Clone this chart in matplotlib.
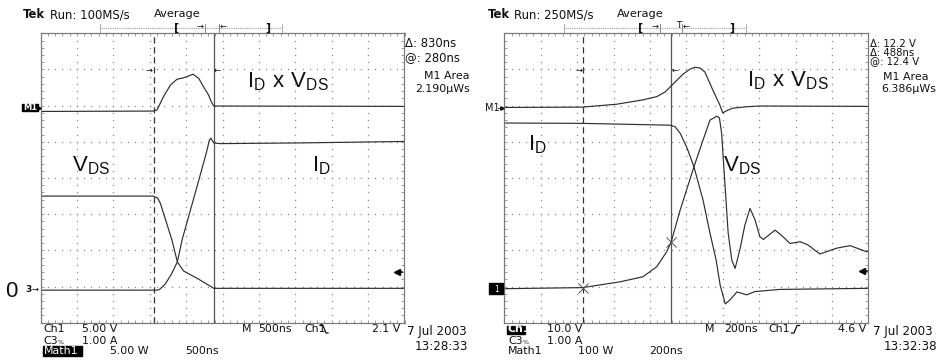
import matplotlib
matplotlib.use("Agg")
import matplotlib.pyplot as plt
from matplotlib.patches import Rectangle
import numpy as np

plt.rcParams['mathtext.fontset'] = 'custom'
plt.rcParams['mathtext.rm'] = 'Liberation Sans'

W, H = 937, 360

# --- traces, in screen divisions (graticule is 10 x 8) ---
# left screen: turn-on, 500 ns/div
l_pwr_x = [0, 3.10, 3.20, 3.38, 3.57, 3.75, 3.93, 4.07, 4.19, 4.35, 4.48, 4.62, 4.69, 4.76, 10]
l_pwr_y = [5.84, 5.85, 5.88, 6.25, 6.57, 6.73, 6.77, 6.82, 6.87, 6.75, 6.52, 6.29, 6.11, 5.99, 5.98]
l_id_x = [0, 3.18, 3.26, 3.43, 3.60, 3.76, 3.89, 4.28, 4.56, 4.64, 4.68, 4.76, 4.94, 7.15, 10]
l_id_y = [0.90, 0.90, 0.91, 1.07, 1.35, 1.68, 2.29, 3.69, 4.71, 5.05, 5.10, 4.97, 4.95, 4.97, 5.01]
l_vds_x = [0, 3.10, 3.21, 3.29, 3.61, 3.76, 3.93, 4.35, 4.76, 10]
l_vds_y = [3.50, 3.50, 3.45, 3.31, 2.29, 1.68, 1.43, 1.20, 0.95, 0.95]
l_cursors = [3.11, 4.76]

# right screen: turn-off, 200 ns/div
r_pwr_x = [0, 2.15, 3.09, 3.81, 4.19, 4.42, 4.58, 4.91, 5.10, 5.24, 5.38, 5.51, 5.73,
           5.92, 6.00, 6.15, 6.28, 6.66, 7.02, 10]
r_pwr_y = [5.95, 5.96, 6.04, 6.16, 6.25, 6.38, 6.54, 6.87, 7.01, 7.06, 7.04, 6.93, 6.43,
           6.02, 5.80, 5.88, 5.93, 5.97, 5.99, 5.98]
r_id_x = [0, 2.15, 4.55, 4.69, 4.83, 5.02, 5.21, 5.46, 5.65, 5.82, 5.93, 6.07, 6.20,
          6.39, 6.66, 6.88, 7.11, 7.57, 10]
r_id_y = [5.52, 5.51, 5.46, 5.42, 5.24, 4.83, 4.31, 3.39, 2.48, 1.73, 1.04, 0.52, 0.63,
          0.85, 0.77, 0.86, 0.88, 0.92, 0.95]
r_vds_x = [0, 2.15, 3.18, 3.81, 4.19, 4.46, 4.58, 4.83, 5.21, 5.46, 5.65, 5.84, 5.91,
           5.97, 6.06, 6.15, 6.25, 6.34, 6.47, 6.61, 6.75, 6.89, 7.02, 7.12, 7.24, 7.44,
           7.63, 7.85, 8.13, 8.34, 8.67, 9.13, 9.50, 9.96, 10]
r_vds_y = [0.94, 0.97, 1.13, 1.27, 1.55, 1.96, 2.22, 3.11, 4.31, 5.05, 5.60, 5.71, 5.66,
           5.24, 3.86, 2.48, 1.73, 1.50, 2.01, 2.70, 3.16, 2.84, 2.38, 2.30, 2.40, 2.56,
           2.40, 2.19, 2.24, 2.15, 1.90, 2.06, 2.13, 1.96, 1.98]
r_cursors = [2.15, 4.58]
r_marks_x = [2.15, 4.58]
r_marks_y = [0.97, 2.22]

TRACE = '#2e2e2e'
GRID = '#8c8c8c'
SMALL = dict(family='DejaVu Sans', fontsize=7.9, color='#111111', va='center')
BIG = dict(fontsize=16, color='#111111', va='baseline')

fig = plt.figure(figsize=(W / 100, H / 100), dpi=100)


def screen(left_px):
    ax = fig.add_axes([left_px / W, (H - 322.7) / H, 364 / W, 289.4 / H])
    ax.set_xlim(0, 10)
    ax.set_ylim(0, 8)
    ax.set_xticks(np.arange(0, 10.01, 0.2))
    ax.set_yticks(np.arange(0, 8.01, 0.2))
    ax.tick_params(direction='in', length=2.5, width=0.6, color=GRID,
                   top=True, right=True, labelbottom=False, labelleft=False)
    for s in ax.spines.values():
        s.set_color('#7a7a7a')
        s.set_linewidth(0.9)
    # dotted graticule
    fine_y = np.arange(0.2, 8, 0.2)
    fine_x = np.arange(0.2, 10, 0.2)
    for i in range(1, 10):
        ax.plot(np.full_like(fine_y, i), fine_y, ls='', marker='s', ms=0.9,
                mec='none', mfc=GRID)
    for j in range(1, 8):
        ax.plot(fine_x, np.full_like(fine_x, j), ls='', marker='s', ms=0.9,
                mec='none', mfc=GRID)
    return ax


axl = screen(40.5)
axr = screen(504.3)

for ax, cur in ((axl, l_cursors), (axr, r_cursors)):
    ax.axvline(cur[0], color='#333333', lw=0.9, dashes=(5, 3))
    ax.axvline(cur[1], color='#555555', lw=0.9)

axl.plot(l_pwr_x, l_pwr_y, color=TRACE, lw=0.85)
axl.plot(l_id_x, l_id_y, color=TRACE, lw=0.85)
axl.plot(l_vds_x, l_vds_y, color=TRACE, lw=0.85)

axr.plot(r_pwr_x, r_pwr_y, color=TRACE, lw=0.85)
axr.plot(r_id_x, r_id_y, color=TRACE, lw=0.85)
axr.plot(r_vds_x, r_vds_y, color=TRACE, lw=0.85)
axr.plot(r_marks_x, r_marks_y, ls='', marker='x', ms=7, mew=0.7, color='#555555')

# overlay in pixel units for the readouts
ov = fig.add_axes([0, 0, 1, 1])
ov.set_xlim(0, W)
ov.set_ylim(H, 0)
ov.axis('off')
ov.patch.set_visible(False)


def t(x, y, s, **kw):
    opts = dict(SMALL)
    opts.update(kw)
    ov.text(x, y, s, **opts)


def record_bar(x0, x1, lb, rb, ticks):
    ov.plot([x0, x1], [27.7, 27.7], color='#777777', lw=0.6, ls=(0, (1, 1.2)))
    for xx in (x0, x1):
        ov.plot([xx, xx], [23.5, 31.5], color='#999999', lw=0.6)
    for xx in ticks:
        ov.plot([xx, xx], [24, 32], color='#777777', lw=0.6)
    t(lb, 27.5, '[', fontweight='bold', ha='center', fontsize=8)
    t(rb, 27.5, ']', fontweight='bold', ha='center', fontsize=8)


def edge(xs, ys):
    ov.plot(xs, ys, color='#111111', lw=0.9)


# ---- left screen text ----
t(22.7, 15, 'Tek', fontweight='bold', fontsize=8.4)
t(50, 15, 'Run: 100MS/s', fontsize=8.4)
t(154, 14, 'Average', fontsize=8.2)
record_bar(100, 281.7, 176.7, 268.3, [205, 219.3])
t(204, 26, '→', ha='right', fontsize=6)
t(220, 26, '←', ha='left', fontsize=6)
t(405, 50.3, 'Δ: 830ns\n@: 280ns', fontsize=8.4, linespacing=1.1)
t(470, 76, 'M1 Area', ha='right')
t(470, 89.3, '2.190µWs', ha='right')
t(153, 70, '→', ha='right', fontsize=6)
t(214, 70, '←', ha='left', fontsize=6)
ov.text(247, 87.3, r'$\mathrm{I_D\ x\ V_{DS}}$', **BIG)
ov.text(72, 171, r'$\mathrm{V_{DS}}$', **BIG)
ov.text(312, 171, r'$\mathrm{I_D}$', **BIG)
ov.text(5, 297, '0', family='Liberation Sans', fontsize=16, color='#111111', va='baseline')
ov.add_patch(Rectangle((21.7, 104.3), 16.6, 6.9, color='black'))
t(30, 107.8, 'M1', ha='center', color='white', fontsize=6, fontweight='bold')
ov.plot([39.2], [107.7], marker='>', ms=2.5, color='black')
t(25, 289.5, '3', fontweight='bold', fontsize=6.5)
t(31.5, 289, '→', fontsize=6)
ov.plot([397.5, 402], [272, 272], color='black', lw=1.2)
ov.plot([397], [272], marker='<', ms=4, color='black')

t(43, 329, 'Ch1')
t(81.7, 329, '5.00 V')
t(43, 340.5, 'C3')
t(57.5, 342, '%', fontsize=4.5)
t(81.7, 340.5, '1.00 A')
ov.add_patch(Rectangle((43, 345.5), 39.5, 10, color='black'))
t(44, 350.5, 'Math1', color='white')
t(110, 350.5, '5.00 W')
t(185, 350.5, '500ns')
t(241.7, 329, 'M')
t(258.3, 329, '500ns')
t(304, 329, 'Ch1')
edge([320, 323, 326, 328], [325.5, 325.5, 333, 333])
t(400, 329, '2.1 V', ha='right')
t(406.7, 331.5, '7 Jul 2003', fontsize=8.6)
t(415, 347, '13:28:33', fontsize=8.6)

# ---- right screen text ----
t(488, 15, 'Tek', fontweight='bold', fontsize=8.4)
t(514, 15, 'Run: 250MS/s', fontsize=8.4)
t(617, 14, 'Average', fontsize=8.2)
record_bar(564.3, 746, 641, 731.7, [660, 681.7])
t(659, 26, '→', ha='right', fontsize=6)
t(678.3, 26, 'T', ha='center', fontsize=6.5)
t(682.5, 26, '←', ha='left', fontsize=6)
t(870, 52.5, 'Δ: 12.2 V\nΔ: 488ns\n@: 12.4 V', fontsize=7.3, linespacing=0.8)
t(883.3, 76.7, 'M1 Area')
t(881.7, 89.3, '6.386µWs')
t(583, 70, '→', ha='right', fontsize=6)
t(672, 70, '←', ha='left', fontsize=6)
ov.text(746.7, 86.5, r'$\mathrm{I_D\ x\ V_{DS}}$', **BIG)
ov.text(528, 150, r'$\mathrm{I_D}$', **BIG)
ov.text(723, 171, r'$\mathrm{V_{DS}}$', **BIG)
t(485, 108.3, 'M1', fontsize=7)
ov.plot([498, 503], [108.3, 108.3], color='#111111', lw=0.6)
ov.plot([502.5], [108.3], marker='>', ms=2.5, color='#111111')
ov.add_patch(Rectangle((489.3, 283.3), 14, 11, color='black'))
t(496.3, 289, '1', ha='center', color='white', fontsize=5.5)
ov.plot([862.5, 867], [271, 271], color='black', lw=1.2)
ov.plot([862], [271], marker='<', ms=4, color='black')

ov.add_patch(Rectangle((507.3, 325.5), 18, 8, color='black'))
t(508, 329, 'Ch1', color='white', fontweight='bold')
t(546.7, 329, '10.0 V')
t(508, 340.5, 'C3')
t(522.5, 342, '%', fontsize=4.5)
t(546.7, 340.5, '1.00 A')
t(508, 350.5, 'Math1')
t(578.3, 350.5, '100 W')
t(649, 350.5, '200ns')
t(705, 329, 'M')
t(724, 329, '200ns')
t(768.3, 329, 'Ch1')
edge([791.5, 794, 797, 799.5], [333, 333, 325.5, 325.5])
t(866, 329, '4.6 V', ha='right')
t(873.3, 331.5, '7 Jul 2003', fontsize=8.6)
t(883.3, 347, '13:32:38', fontsize=8.6)

fig.savefig('out.png', dpi=100)
